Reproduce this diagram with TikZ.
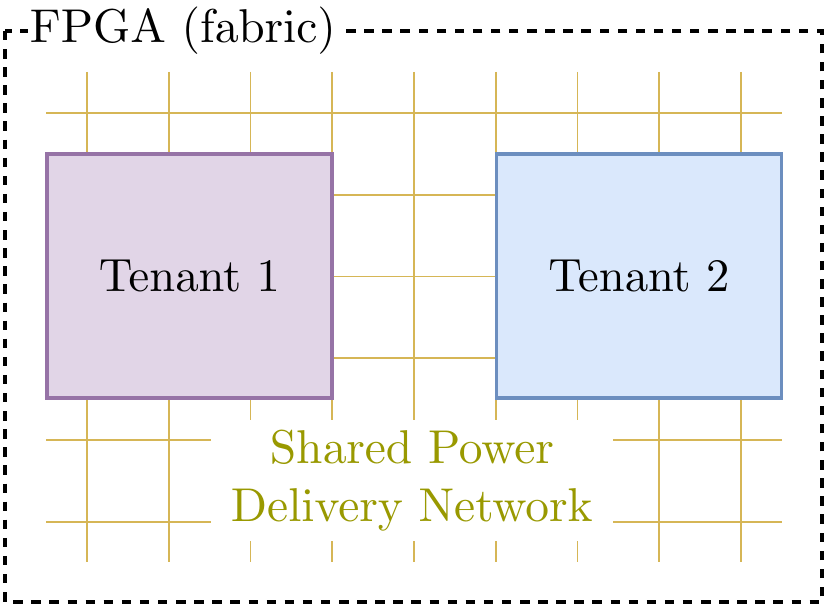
\documentclass[tikz,border=0pt]{standalone}
\usepackage{xcolor}
\usepackage{tikz}
\usetikzlibrary{positioning}
\definecolor{pdnline}{HTML}{D6B656}
\definecolor{pdntext}{HTML}{999900}
\definecolor{violetfill}{HTML}{E1D5E7}
\definecolor{violetdraw}{HTML}{9673A6}
\definecolor{bluefill}{HTML}{DAE8FC}
\definecolor{bluedraw}{HTML}{6C8EBF}
\font\pdnrm=cmr10 at 27pt
\font\tenantrm=cmr10 at 26.5pt
\tikzstyle{wire} = [draw=pdnline, line width=1.1pt]
\tikzstyle{fabricframe} = [draw=black, line width=2pt, dash pattern=on 5.4pt off 4.9pt]
\tikzstyle{tenant} = [rectangle, line width=2.2pt, minimum width=5.7cm, minimum height=4.88cm, font={\tenantrm}]
\tikzstyle{fabrictitle} = [fill=white, inner sep=1pt, font={\pdnrm}]
\tikzstyle{pdnbox} = [fill=white, align=center, minimum width=8.04cm, minimum height=2.42cm, text=pdntext, font={\fontsize{27}{33}\selectfont\pdnrm}]

\begin{document}
\begin{tikzpicture}
    \useasboundingbox (0,0) rectangle (16.52,-12.16);
    \draw [fabricframe] (0.1,-0.62) rectangle (16.44,-12.04);
    % power delivery grid
    \foreach \i in {0,...,8}
      \path [wire] (1.74+1.635*\i,-1.44) -- (1.74+1.635*\i,-11.24);
    \foreach \j in {0,...,5}
      \path [wire] (0.92,-2.26-1.635*\j) -- (15.64,-2.26-1.635*\j);
    \node [tenant, fill=violetfill, draw=violetdraw] at (3.79,-5.52) (tenant1)
      {Tenant 1};
    \node [tenant, fill=bluefill, draw=bluedraw] at (12.78,-5.52) (tenant2)
      {Tenant 2};
    \node [pdnbox] at (8.24,-9.61) (pdn)
      {Shared Power\\
        Delivery Network};
    \node [fabrictitle] at (3.66,-0.62) (fpga) {FPGA (fabric)};
  \end{tikzpicture}
\end{document}
